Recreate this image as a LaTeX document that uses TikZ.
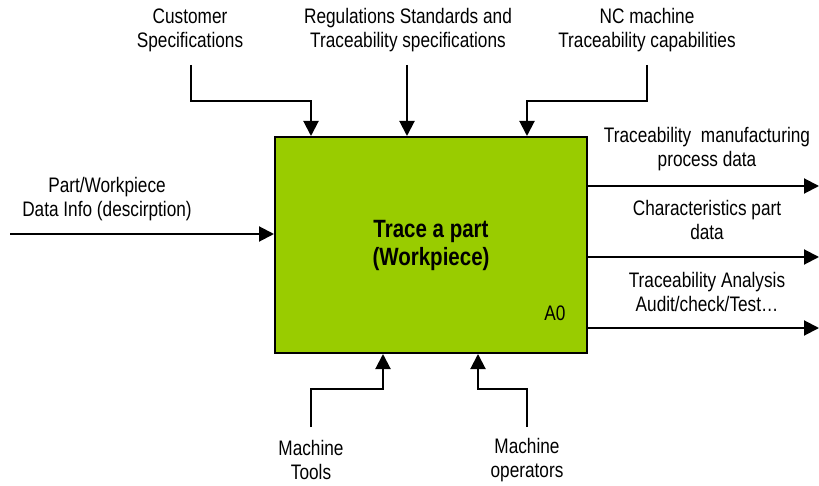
\documentclass[tikz,border=0pt]{standalone}
\usepackage{fontspec}
\setmainfont{Liberation Sans}[FakeStretch=0.82]
\usepackage{xcolor}
\usetikzlibrary{arrows.meta, positioning}
\definecolor{funcgreen}{RGB}{153,204,0}

\begin{document}
\begin{tikzpicture}[
    x=0.5pt, y=-0.5pt,
    func/.style={rectangle, draw=black, line width=1pt, fill=funcgreen,
                 minimum width=156pt, minimum height=108pt, align=center,
                 font=\fontsize{12.5}{14}\selectfont\bfseries},
    lbl/.style={align=center, inner sep=0pt, font=\fontsize{10.5}{12}\selectfont},
    arr/.style={-{Triangle[length=7.5pt, width=7.5pt]}, line width=1pt, black}
]
    \useasboundingbox (0,0) rectangle (819,486);

    \node[func] (trace) at (431,245) {Trace a part\\(Workpiece)};
    \node[lbl] (azero) at (555,313) {A0};

    % controls
    \node[lbl] (cust) at (190,30) {Customer\\Specifications};
    \node[lbl] (regs) at (408,30) {Regulations Standards and\\Traceability specifications};
    \node[lbl] (ncm) at (647,30) {NC machine\\Traceability capabilities};
    \coordinate (custin) at (191,65);
    \coordinate (regsin) at (407,65);
    \coordinate (ncmin) at (647,65);
    \draw[arr] (custin) |- (311,101) -- (311,101 |- trace.north);
    \draw[arr] (regsin) -- (regsin |- trace.north);
    \draw[arr] (ncmin) |- (527,101) -- (527,101 |- trace.north);

    % input
    \node[lbl] (part) at (107,199) {Part/Workpiece\\Data Info (descirption)};
    \coordinate (partin) at (10,234);
    \draw[arr] (partin) -- (partin -| trace.west);

    % outputs
    \node[lbl] (procdata) at (707,149) {Traceability\ \ manufacturing\\process data};
    \node[lbl] (chardata) at (707,220) {Characteristics part\\data};
    \node[lbl] (audit) at (707,292) {Traceability Analysis\\Audit/check/Test…};
    \coordinate (out1) at (819,186);
    \coordinate (out2) at (819,257);
    \coordinate (out3) at (819,328);
    \draw[arr] (out1 -| trace.east) -- (out1);
    \draw[arr] (out2 -| trace.east) -- (out2);
    \draw[arr] (out3 -| trace.east) -- (out3);

    % mechanisms
    \node[lbl] (tools) at (311,460) {Machine\\Tools};
    \node[lbl] (oper) at (527,460) {Machine\\operators};
    \coordinate (toolsin) at (311,427);
    \coordinate (operin) at (527,427);
    \draw[arr] (toolsin) |- (383,389) -- (383,389 |- trace.south);
    \draw[arr] (operin) |- (478,389) -- (478,389 |- trace.south);
\end{tikzpicture}
\end{document}
